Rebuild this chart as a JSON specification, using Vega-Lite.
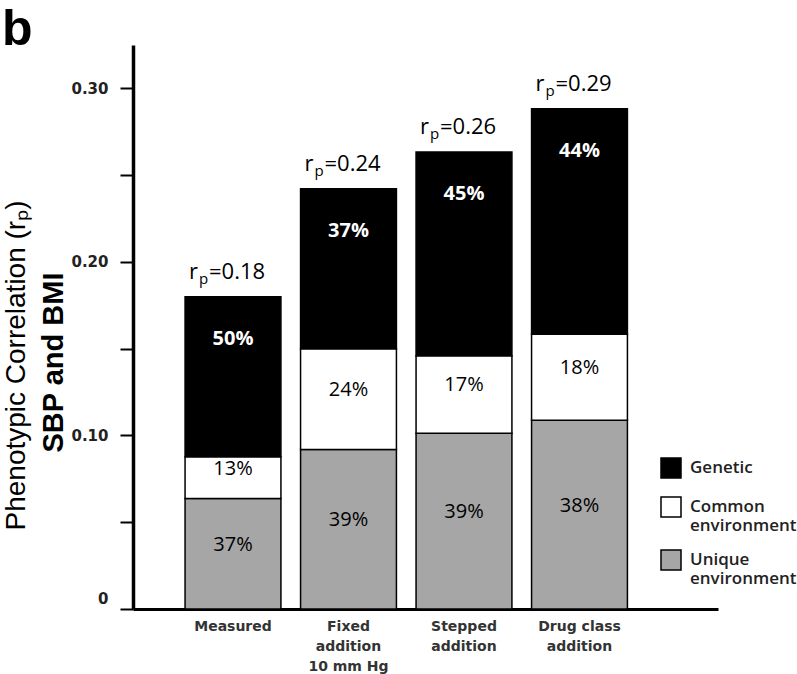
{
  "$schema": "https://vega.github.io/schema/vega-lite/v6.json",
  "width": 585,
  "height": 564,
  "autosize": "none",
  "padding": {"left": 133, "top": 45, "right": 79, "bottom": 65},
  "background": "white",
  "title": {"text": "b", "anchor": "start", "frame": "group", "font": "Liberation Sans", "fontSize": 50, "fontWeight": "bold", "color": "black", "offset": 0, "dx": -131, "dy": 10},
  "config": {"view": {"stroke": null}, "font": "Open Sans"},
  "data": {"values": [
    {"category": "Measured", "component": "Unique environment", "value": 0.0637, "pct": 37, "rp": 0.18},
    {"category": "Measured", "component": "Common environment", "value": 0.0240, "pct": 13, "rp": 0.18},
    {"category": "Measured", "component": "Genetic", "value": 0.0923, "pct": 50, "rp": 0.18},
    {"category": "Fixed addition 10 mm Hg", "component": "Unique environment", "value": 0.0919, "pct": 39, "rp": 0.24},
    {"category": "Fixed addition 10 mm Hg", "component": "Common environment", "value": 0.0581, "pct": 24, "rp": 0.24},
    {"category": "Fixed addition 10 mm Hg", "component": "Genetic", "value": 0.0922, "pct": 37, "rp": 0.24},
    {"category": "Stepped addition", "component": "Unique environment", "value": 0.1013, "pct": 39, "rp": 0.26},
    {"category": "Stepped addition", "component": "Common environment", "value": 0.0447, "pct": 17, "rp": 0.26},
    {"category": "Stepped addition", "component": "Genetic", "value": 0.1173, "pct": 45, "rp": 0.26},
    {"category": "Drug class addition", "component": "Unique environment", "value": 0.1088, "pct": 38, "rp": 0.29},
    {"category": "Drug class addition", "component": "Common environment", "value": 0.0495, "pct": 18, "rp": 0.29},
    {"category": "Drug class addition", "component": "Genetic", "value": 0.1300, "pct": 44, "rp": 0.29}
  ]},
  "transform": [
    {"calculate": "indexof(['Unique environment','Common environment','Genetic'], datum.component)", "as": "order"},
    {"stack": "value", "groupby": ["category"], "sort": [{"field": "order", "order": "ascending"}], "as": ["y0", "y1"]},
    {"calculate": "(datum.y0 + datum.y1) / 2", "as": "mid"},
    {"calculate": "datum.pct + '%'", "as": "pctLabel"}
  ],
  "encoding": {
    "x": {
      "field": "category", "type": "nominal",
      "sort": ["Measured", "Fixed addition 10 mm Hg", "Stepped addition", "Drug class addition"],
      "scale": {"domain": ["Measured", "Fixed addition 10 mm Hg", "Stepped addition", "Drug class addition"], "paddingInner": 0.17, "paddingOuter": 0.6175, "align": 0.365, "round": false},
      "axis": {
        "title": null, "labelAngle": 0, "ticks": false, "domainColor": "black", "domainWidth": 3,
        "labelFont": "DejaVu Sans", "labelFontWeight": "bold", "labelFontSize": 14, "labelColor": "#333333",
        "labelPadding": 10, "labelLineHeight": 20, "labelBaseline": "top",
        "labelExpr": "datum.label == 'Fixed addition 10 mm Hg' ? ['Fixed','addition','10 mm Hg'] : datum.label == 'Stepped addition' ? ['Stepped','addition'] : datum.label == 'Drug class addition' ? ['Drug class','addition'] : datum.label"
      }
    }
  },
  "resolve": {"axis": {"y": "independent"}},
  "layer": [
    {
      "mark": {"type": "bar", "stroke": "black", "strokeWidth": 1.5},
      "encoding": {
        "y": {
          "field": "y1", "type": "quantitative",
          "scale": {"domain": [0, 0.325], "nice": false, "zero": true},
          "axis": {
            "values": [0, 0.05, 0.1, 0.15, 0.2, 0.25, 0.3],
            "labelExpr": "datum.value == 0 ? '0' : (round(datum.value * 100) % 10 == 0 ? format(datum.value, '.2f') : '')",
            "title": "SBP and BMI", "titleFont": "Liberation Sans", "titleFontSize": 29, "titleFontWeight": "bold", "titleColor": "black",
            "titlePadding": 2, "titleY": 317,
            "domainColor": "black", "domainWidth": 3.5, "tickColor": "black", "tickWidth": 2, "tickSize": 13,
            "labelFont": "DejaVu Sans", "labelFontSize": 15, "labelFontWeight": "bold", "labelColor": "#222222", "labelPadding": 12,
            "labelOffset": {"condition": {"test": "datum.value == 0", "value": -11}, "value": 0},
            "grid": false
          }
        },
        "y2": {"field": "y0"},
        "color": {
          "field": "component", "type": "nominal",
          "scale": {"domain": ["Genetic", "Common environment", "Unique environment"], "range": ["#000000", "#ffffff", "#a6a6a6"]},
          "legend": {
            "title": null, "orient": "none", "legendX": 527, "legendY": 412,
            "symbolType": "square", "symbolSize": 400, "symbolStrokeColor": "black", "symbolStrokeWidth": 1.5,
            "labelFont": "Open Sans", "labelFontSize": 17, "labelFontWeight": 600, "labelColor": "#222222",
            "labelExpr": "split(datum.label, ' ')", "rowPadding": 13, "labelOffset": 8
          }
        },
        "order": {"field": "order", "type": "quantitative"}
      }
    },
    {
      "transform": [{"filter": "datum.component == 'Genetic'"}],
      "mark": {"type": "text", "color": "white", "fontWeight": "bold", "fontSize": 20, "baseline": "middle", "dy": 42},
      "encoding": {
        "y": {
          "field": "y1", "type": "quantitative", "scale": {"domain": [0, 0.325], "nice": false},
          "axis": {
            "orient": "left", "title": "Phenotypic Correlation (rₚ)", "titleFont": "Liberation Sans", "titleFontSize": 28,
            "titleFontWeight": "normal", "titleColor": "black", "domain": false, "ticks": false, "labels": false, "grid": false,
            "offset": 103, "titlePadding": 0, "titleY": 320
          }
        },
        "text": {"field": "pctLabel"}
      }
    },
    {
      "transform": [{"filter": "datum.component != 'Genetic'"}],
      "mark": {"type": "text", "color": "black", "fontSize": 20, "baseline": "middle", "dy": -9},
      "encoding": {
        "y": {"field": "mid", "type": "quantitative", "scale": {"domain": [0, 0.325], "nice": false}, "axis": null},
        "text": {"field": "pctLabel"}
      }
    },
    {
      "transform": [{"aggregate": [{"op": "max", "field": "y1", "as": "total"}], "groupby": ["category", "rp"]}],
      "mark": {"type": "text", "color": "black", "fontSize": 22, "align": "right", "baseline": "alphabetic", "dx": -35, "dy": -18},
      "encoding": {
        "y": {"field": "total", "type": "quantitative", "scale": {"domain": [0, 0.325], "nice": false}, "axis": null},
        "text": {"value": "r"}
      }
    },
    {
      "transform": [{"aggregate": [{"op": "max", "field": "y1", "as": "total"}], "groupby": ["category", "rp"]}],
      "mark": {"type": "text", "color": "black", "fontSize": 15, "align": "left", "baseline": "alphabetic", "dx": -34, "dy": -13},
      "encoding": {
        "y": {"field": "total", "type": "quantitative", "scale": {"domain": [0, 0.325], "nice": false}, "axis": null},
        "text": {"value": "p"}
      }
    },
    {
      "transform": [
        {"aggregate": [{"op": "max", "field": "y1", "as": "total"}], "groupby": ["category", "rp"]},
        {"calculate": "'=' + format(datum.rp, '.2f')", "as": "rpLabel"}
      ],
      "mark": {"type": "text", "color": "black", "fontSize": 22, "align": "left", "baseline": "alphabetic", "dx": -24, "dy": -18},
      "encoding": {
        "y": {"field": "total", "type": "quantitative", "scale": {"domain": [0, 0.325], "nice": false}, "axis": null},
        "text": {"field": "rpLabel"}
      }
    }
  ]
}
